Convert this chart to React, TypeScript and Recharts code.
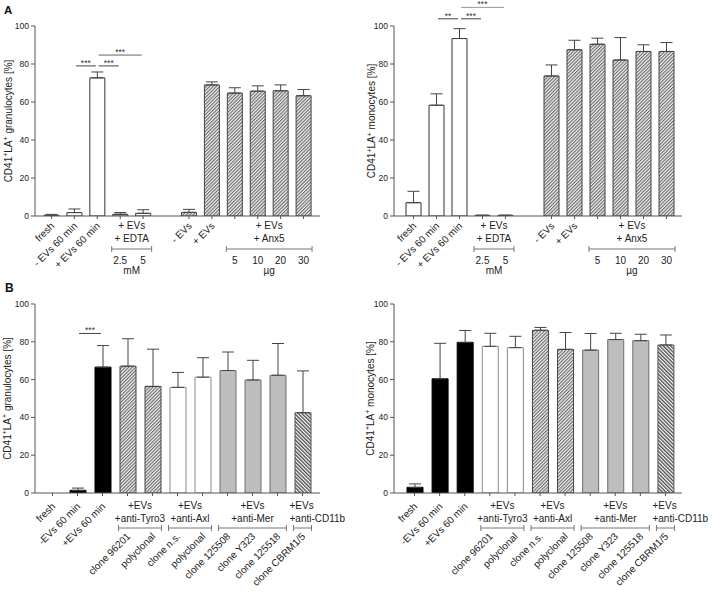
import React from 'react';
import { BarChart, Bar, XAxis, YAxis, Cell, ErrorBar, ReferenceLine } from 'recharts';

const FONT = '"Liberation Sans", Arial, Helvetica, sans-serif';
const AXIS = '#555';
const TEXT = '#222';
const ERR = '#444';
const YW = 35;

// ---- Panel A: EDTA / Annexin V ----
const A_KEYS = ['fresh', '-EV60', '+EV60', 'edta2.5', 'edta5', 'gap', '-EV', '+EV', 'anx5', 'anx10', 'anx20', 'anx30'];
const A_LABELS = ['fresh', '- EVs 60 min', '+ EVs 60 min', '2.5', '5', '', '- EVs', '+ EVs', '5', '10', '20', '30'];
const A_STYLE = ['white', 'white', 'white', 'white', 'white', 'none', 'hatch', 'hatch', 'hatch', 'hatch', 'hatch', 'hatch'];
const A_GRAN = [0.35, 1.8, 72.7, 0.9, 1.4, null, 1.9, 69.0, 64.7, 65.7, 65.9, 63.3];
const A_GRAN_ERR = [0.5, 1.9, 3.1, 0.9, 1.9, null, 1.6, 1.6, 2.8, 2.8, 3.1, 3.3];
const A_MONO = [7.0, 58.3, 93.4, 0.3, 0.3, null, 73.7, 87.5, 90.4, 82.1, 86.6, 86.6];
const A_MONO_ERR = [6.0, 6.0, 5.2, 0.2, 0.2, null, 5.8, 5.0, 3.2, 11.8, 3.5, 4.7];
const A_GROUPS = [
  { first: 3, last: 4, lines: ['+ EVs', '+ EDTA'], unit: 'mM', align: 'middle' },
  { first: 8, last: 11, lines: ['+ EVs', '+ Anx5'], unit: 'µg', align: 'middle' },
];
const A_GRAN_SIG = [
  { from: '-EV60', to: '+EV60', y: 79, text: '***', color: '#444' },
  { from: '+EV60', to: 'edta2.5', y: 79, text: '***', color: '#444' },
  { from: '+EV60', to: 'edta5', y: 84.7, text: '***', color: '#666' },
];
const A_MONO_SIG = [
  { from: '-EV60', to: '+EV60', y: 103.8, text: '**', color: '#444' },
  { from: '+EV60', to: 'edta2.5', y: 103.8, text: '***', color: '#444' },
  { from: '+EV60', to: 'edta5', y: 109.8, text: '***', color: '#999' },
];

// ---- Panel B: TAM receptor / CD11b blocking ----
const B_KEYS = ['fresh', '-EV60', '+EV60', 'tyro96201', 'tyroPoly', 'axlNS', 'axlPoly', 'mer125508', 'merY323', 'mer125518', 'cbrm'];
const B_LABELS = ['fresh', '-EVs 60 min', '+EVs 60 min', 'clone 96201', 'polyclonal', 'clone n.s.', 'polyclonal', 'clone 125508', 'clone Y323', 'clone 125518', 'clone CBRM1/5'];
const B_GRAN_STYLE = ['black', 'black', 'black', 'hatch', 'hatch', 'whiteGray', 'whiteGray', 'gray', 'gray', 'gray', 'hatchBack'];
const B_MONO_STYLE = ['black', 'black', 'black', 'whiteGray', 'whiteGray', 'hatch', 'hatch', 'gray', 'gray', 'gray', 'hatchBack'];
const B_GRAN = [null, 1.4, 66.6, 67.1, 56.4, 55.9, 61.3, 64.8, 59.8, 62.3, 42.5];
const B_GRAN_ERR = [null, 1.2, 11.4, 14.5, 19.7, 7.9, 10.3, 9.8, 10.4, 16.8, 22.1];
const B_MONO = [3.0, 60.4, 79.7, 77.6, 76.9, 86.1, 76.0, 75.6, 81.2, 80.6, 78.3];
const B_MONO_ERR = [1.8, 18.8, 6.3, 6.9, 6.0, 1.5, 8.9, 8.8, 3.3, 3.4, 5.3];
const B_GROUPS = [
  { first: 3, last: 4, lines: ['+EVs', '+anti-Tyro3'], align: 'middle' },
  { first: 5, last: 6, lines: ['+EVs', '+anti-Axl'], align: 'middle' },
  { first: 7, last: 9, lines: ['+EVs', '+anti-Mer'], align: 'middle' },
  { first: 10, last: 10, lines: ['+EVs', '+anti-CD11b'], align: 'start' },
];
const B_GRAN_SIG = [{ from: '-EV60', to: '+EV60', y: 84.4, text: '***', color: '#444' }];

const Y_TICKS = [0, 20, 40, 60, 80, 100];

const STYLES: Record<string, { fill: string; stroke: string }> = {
  none: { fill: 'none', stroke: 'none' },
  white: { fill: '#fff', stroke: '#333' },
  whiteGray: { fill: '#fff', stroke: '#8a8a8a' },
  black: { fill: '#000', stroke: '#000' },
  gray: { fill: '#bdbdbd', stroke: '#6e6e6e' },
  hatch: { fill: 'url(#hatch)', stroke: '#444' },
  hatchBack: { fill: 'url(#hatchBack)', stroke: '#555' },
};

const PANELS = [
  {
    id: 'Ag', kind: 'A', left: 0, top: 0, width: 354, height: 290, marginTop: 26, marginRight: 34, plotH: 190,
    padL: 5, padR: 5, barSize: 15, labelGap: 23.5, cell: 'granulocytes',
    keys: A_KEYS, labels: A_LABELS, styles: A_STYLE, values: A_GRAN, errs: A_GRAN_ERR, groups: A_GROUPS, sig: A_GRAN_SIG,
  },
  {
    id: 'Am', kind: 'A', left: 359, top: 0, width: 354, height: 290, marginTop: 26, marginRight: 31, plotH: 190,
    padL: 8, padR: 4, barSize: 15, labelGap: 19, cell: 'monocytes',
    keys: A_KEYS, labels: A_LABELS, styles: A_STYLE, values: A_MONO, errs: A_MONO_ERR, groups: A_GROUPS, sig: A_MONO_SIG,
  },
  {
    id: 'Bg', kind: 'B', left: 0, top: 278, width: 354, height: 316, marginTop: 26, marginRight: 34, plotH: 189,
    padL: 5, padR: 5, barSize: 16, labelGap: 24.5, cell: 'granulocytes',
    keys: B_KEYS, labels: B_LABELS, styles: B_GRAN_STYLE, values: B_GRAN, errs: B_GRAN_ERR, groups: B_GROUPS, sig: B_GRAN_SIG,
  },
  {
    id: 'Bm', kind: 'B', left: 359, top: 278, width: 354, height: 316, marginTop: 26, marginRight: 31, plotH: 189,
    padL: 8, padR: 4, barSize: 16, labelGap: 20.5, cell: 'monocytes',
    keys: B_KEYS, labels: B_LABELS, styles: B_MONO_STYLE, values: B_MONO, errs: B_MONO_ERR, groups: B_GROUPS, sig: [],
  },
];

function renderTick(props: any, cfg: any, band: number) {
  const { x, y } = props;
  const i = props.index ?? props.payload?.index;
  const label = cfg.labels[i];
  if (!label) return <g />;
  const isA = cfg.kind === 'A';
  const g = cfg.groups.find((gr: any) => i >= gr.first && i <= gr.last);
  const els: any[] = [<line key="tk" x1={x} x2={x} y1={y} y2={y + 3} stroke={AXIS} />];

  if (g && isA) {
    els.push(<text key="lb" x={x} y={y + 48} textAnchor="middle">{label}</text>);
  } else {
    const px = x + 3.5;
    const py = y + (g ? 44 : isA ? 10.5 : 14);
    els.push(
      <text key="lb" x={px} y={py} textAnchor="end" transform={`rotate(-45 ${px} ${py})`}>{label}</text>
    );
  }

  if (g && i === g.first) {
    const span = (g.last - g.first) * band;
    const ext = cfg.barSize / 2 + 1;
    const start = g.align === 'start';
    const hx = start ? x - ext - 4 : x + span / 2;
    const anchor = start ? 'start' : 'middle';
    const h1 = isA ? 12.5 : 15.7;
    const h2 = isA ? 25.7 : 29.4;
    const by = isA ? 33 : 35;
    els.push(<text key="h1" x={hx} y={y + h1} textAnchor={anchor}>{g.lines[0]}</text>);
    els.push(<text key="h2" x={hx} y={y + h2} textAnchor={anchor}>{g.lines[1]}</text>);
    const bx1 = x - ext;
    const bx2 = x + span + ext;
    els.push(<line key="br" x1={bx1} x2={bx2} y1={y + by} y2={y + by} stroke="#777" />);
    els.push(<line key="c1" x1={bx1} x2={bx1} y1={y + by - 3} y2={y + by + 3} stroke="#777" />);
    els.push(<line key="c2" x1={bx2} x2={bx2} y1={y + by - 3} y2={y + by + 3} stroke="#777" />);
    if (g.unit) {
      els.push(<text key="un" x={x + span / 2} y={y + 58.3} textAnchor="middle">{g.unit}</text>);
    }
  }
  return (
    <g fontFamily={FONT} fontSize={10} fill={TEXT}>
      {els}
    </g>
  );
}

function Panel({ cfg }: { cfg: any }) {
  const data = cfg.keys.map((k: string, i: number) => ({
    cat: k,
    value: cfg.values[i],
    err: cfg.errs[i] == null ? null : [0, cfg.errs[i]],
  }));
  const plotW = cfg.width - YW - cfg.marginRight;
  const band = (plotW - cfg.padL - cfg.padR) / cfg.keys.length;
  return (
    <div style={{ position: 'absolute', left: cfg.left, top: cfg.top }}>
      <BarChart
        width={cfg.width}
        height={cfg.height}
        data={data}
        margin={{ top: cfg.marginTop, right: cfg.marginRight, bottom: 0, left: 0 }}
      >
        <XAxis
          dataKey="cat"
          interval={0}
          height={cfg.height - cfg.marginTop - cfg.plotH}
          padding={{ left: cfg.padL, right: cfg.padR }}
          tickLine={false}
          tickSize={0}
          tickMargin={0}
          stroke={AXIS}
          tick={(p: any) => renderTick(p, cfg, band)}
        />
        <YAxis
          width={YW}
          domain={[0, 100]}
          ticks={Y_TICKS}
          tickSize={4}
          stroke={AXIS}
          allowDataOverflow
          tick={{ fontSize: 8.5, fill: TEXT, fontFamily: FONT }}
        />
        {cfg.sig.map((s: any, i: number) => (
          <ReferenceLine
            key={i}
            ifOverflow="visible"
            segment={[{ x: s.from, y: s.y }, { x: s.to, y: s.y }]}
            stroke={s.color}
            shape={(p: any) => (
              <line x1={p.x1 + 1.5} y1={p.y1} x2={p.x2 - 1.5} y2={p.y2} stroke={s.color} strokeWidth={1} />
            )}
            label={{ value: s.text, position: 'top', offset: 0, fontSize: 8.5, fill: '#333', fontFamily: FONT }}
          />
        ))}
        <Bar dataKey="value" barSize={cfg.barSize} isAnimationActive={false} strokeWidth={1}>
          {data.map((_: any, i: number) => (
            <Cell key={i} fill={STYLES[cfg.styles[i]].fill} stroke={STYLES[cfg.styles[i]].stroke} />
          ))}
          <ErrorBar dataKey="err" width={6} stroke={ERR} strokeWidth={1} direction="y" />
        </Bar>
      </BarChart>
    </div>
  );
}

export default function App() {
  return (
    <div
      style={{
        position: 'absolute',
        left: 0,
        top: 0,
        width: 713,
        height: 594,
        background: '#fff',
        overflow: 'hidden',
        fontFamily: FONT,
      }}
    >
      <svg width={0} height={0} style={{ position: 'absolute' }}>
        <defs>
          <pattern id="hatch" patternUnits="userSpaceOnUse" width="2.4" height="2.4" patternTransform="rotate(45)">
            <rect width="2.4" height="2.4" fill="#f4f4f4" />
            <line x1="0.6" y1="0" x2="0.6" y2="2.4" stroke="#555" strokeWidth="1" />
          </pattern>
          <pattern id="hatchBack" patternUnits="userSpaceOnUse" width="2.6" height="2.6" patternTransform="rotate(-45)">
            <rect width="2.6" height="2.6" fill="#fff" />
            <line x1="0.7" y1="0" x2="0.7" y2="2.6" stroke="#444" strokeWidth="1.3" />
          </pattern>
        </defs>
      </svg>
      {PANELS.map((cfg) => (
        <Panel key={cfg.id} cfg={cfg} />
      ))}
      <svg
        width={713}
        height={594}
        style={{ position: 'absolute', left: 0, top: 0, pointerEvents: 'none' }}
        fontFamily={FONT}
      >
        <text x={4} y={14} fontSize={11.5} fontWeight="bold" fill="#111">A</text>
        <text x={5} y={292} fontSize={12} fontWeight="bold" fill="#111">B</text>
        {PANELS.map((cfg) => {
          const lx = cfg.left + YW - cfg.labelGap;
          const ly = cfg.top + cfg.marginTop + cfg.plotH / 2;
          return (
            <text
              key={cfg.id}
              x={lx}
              y={ly}
              transform={`rotate(-90 ${lx} ${ly})`}
              textAnchor="middle"
              fontSize={10}
              fill={TEXT}
            >
              CD41<tspan dy={-3.5} fontSize={7}>+</tspan>
              <tspan dy={3.5}>LA</tspan>
              <tspan dy={-3.5} fontSize={7}>+</tspan>
              <tspan dy={3.5}>{' ' + cfg.cell + ' [%]'}</tspan>
            </text>
          );
        })}
      </svg>
    </div>
  );
}
